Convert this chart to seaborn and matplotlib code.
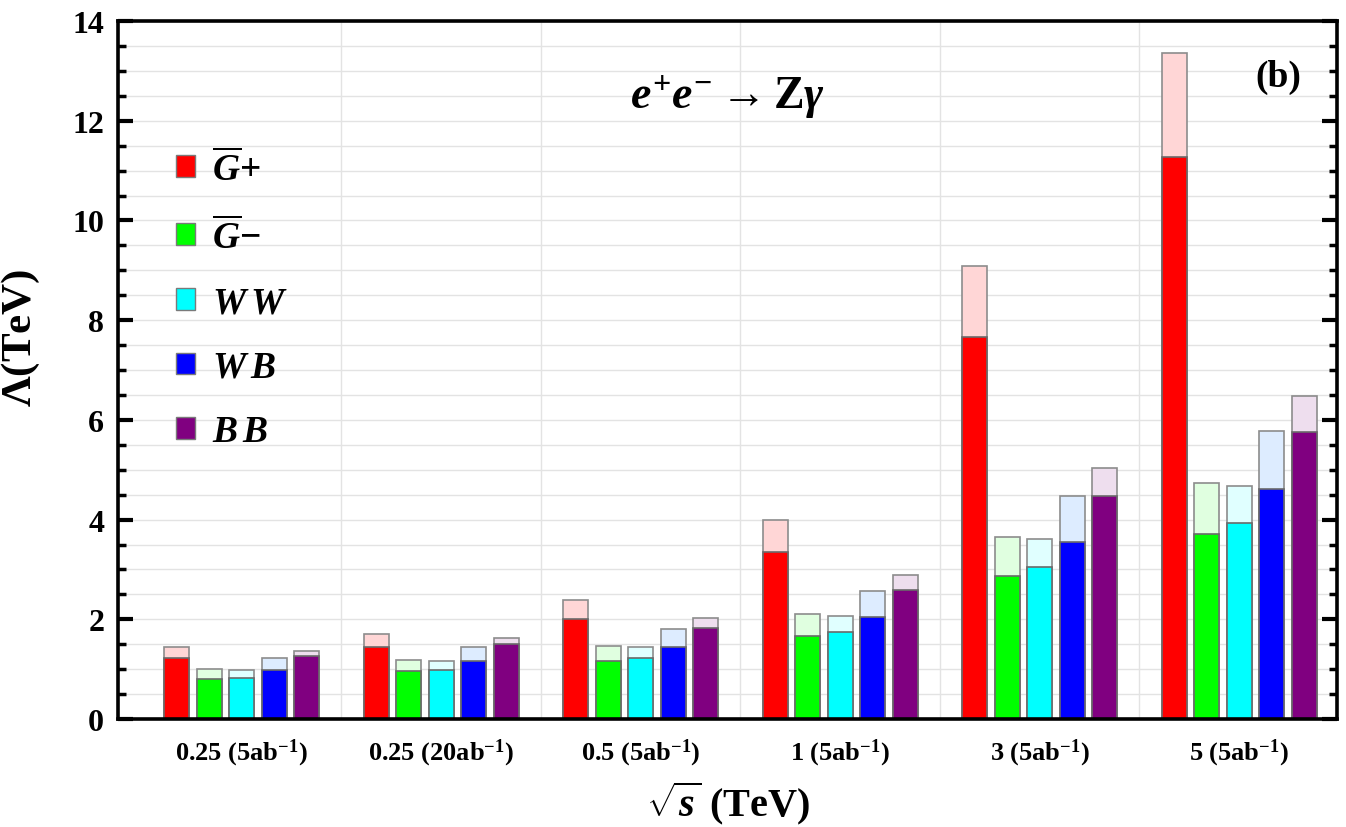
import numpy as np
import pandas as pd
import matplotlib
matplotlib.use("Agg")
import matplotlib.pyplot as plt
from matplotlib.patches import Patch
from matplotlib.ticker import MultipleLocator
import seaborn as sns

# ---- data ----
energies = ["0.25 (5ab$^{-1}$)", "0.25 (20ab$^{-1}$)", "0.5 (5ab$^{-1}$)",
            "1 (5ab$^{-1}$)", "3 (5ab$^{-1}$)", "5 (5ab$^{-1}$)"]
operators = ["Gp", "Gm", "WW", "WB", "BB"]
legend_labels = [r"$\overline{G}$+", r"$\overline{G}$$-$", r"$W\,W$", r"$W\,B$", r"$B\,B$"]

# lower (solid) bound per operator, per energy
lower_Gp = [1.22, 1.44, 2.00, 3.35, 7.67, 11.27]
lower_Gm = [0.80, 0.96, 1.16, 1.66, 2.87, 3.71]
lower_WW = [0.83, 0.98, 1.22, 1.75, 3.04, 3.94]
lower_WB = [0.98, 1.16, 1.44, 2.05, 3.56, 4.61]
lower_BB = [1.26, 1.50, 1.83, 2.58, 4.47, 5.76]
# upper (light) bound
upper_Gp = [1.44, 1.71, 2.38, 3.99, 9.09, 13.36]
upper_Gm = [1.00, 1.18, 1.47, 2.11, 3.66, 4.73]
upper_WW = [0.98, 1.16, 1.45, 2.07, 3.61, 4.67]
upper_WB = [1.22, 1.44, 1.80, 2.57, 4.47, 5.77]
upper_BB = [1.36, 1.62, 2.02, 2.89, 5.03, 6.48]

lowers = [lower_Gp, lower_Gm, lower_WW, lower_WB, lower_BB]
uppers = [upper_Gp, upper_Gm, upper_WW, upper_WB, upper_BB]

dark_colors = ["#ff0000", "#00ff00", "#00ffff", "#0000ff", "#800080"]
light_colors = ["#ffd6d6", "#e0ffe0", "#e0ffff", "#ddecff", "#eedeee"]

rows = []
for op, lo, up in zip(operators, lowers, uppers):
    for e, l, u in zip(energies, lo, up):
        rows.append({"energy": e, "op": op, "lower": l, "upper": u})
df = pd.DataFrame(rows)

# ---- style ----
sns.set_style("white")
plt.rcParams["font.family"] = ["Liberation Serif", "DejaVu Serif"]
plt.rcParams["font.weight"] = "bold"
plt.rcParams["mathtext.fontset"] = "custom"
plt.rcParams["mathtext.rm"] = "Liberation Serif:bold"
plt.rcParams["mathtext.it"] = "Liberation Serif:italic:bold"
plt.rcParams["mathtext.bf"] = "Liberation Serif:bold"
for k in ["text.color", "axes.labelcolor", "xtick.color", "ytick.color"]:
    plt.rcParams[k] = "black"

fig = plt.figure(figsize=(13.46, 8.28), dpi=100)
ax = fig.add_axes([0.0877, 0.1304, 0.9056, 0.843])

ax.set_axisbelow(True)
ax.yaxis.set_major_locator(MultipleLocator(2))
ax.yaxis.set_minor_locator(MultipleLocator(0.5))
ax.grid(True, which="both", axis="y", color="#e3e3e3", linewidth=1.0)
for xv in np.arange(0.5, 5.0, 1.0):
    ax.axvline(xv, color="#e3e3e3", linewidth=1.0, zorder=0)

sns.barplot(data=df, x="energy", y="upper", hue="op", hue_order=operators,
            order=energies, palette=light_colors, width=0.815, gap=0.23,
            edgecolor="#8c8c8c", linewidth=1.2, legend=False, ax=ax,
            errorbar=None, saturation=1)
sns.barplot(data=df, x="energy", y="lower", hue="op", hue_order=operators,
            order=energies, palette=dark_colors, width=0.815, gap=0.23,
            edgecolor="#6a6a6a", linewidth=1.2, legend=False, ax=ax,
            errorbar=None, saturation=1)

ax.set_xlim(-0.62, 5.49)
ax.set_ylim(0, 14)

for sp in ax.spines.values():
    sp.set_visible(True)
    sp.set_color("black")
    sp.set_linewidth(2.6)

ax.tick_params(axis="y", which="major", direction="in", length=11, width=3,
               left=True, right=True, labelsize=23, pad=10)
ax.tick_params(axis="y", which="minor", direction="in", length=6, width=2.5,
               left=True, right=True)
ax.tick_params(axis="x", which="both", bottom=False, top=False,
               labelsize=19, pad=9)
for lab in ax.get_xticklabels() + ax.get_yticklabels():
    lab.set_fontweight("bold")

ax.set_xlabel(r"$\sqrt{s}$ (TeV)", fontsize=29, fontweight="bold", labelpad=8)
ax.set_ylabel(r"$\Lambda$(TeV)", fontsize=31, fontweight="bold")
ax.yaxis.set_label_coords(-0.062, 0.547)

ax.text(0.5, 0.893, r"$e^{+}e^{-}\rightarrow\mathrm{Z}\gamma$",
        transform=ax.transAxes, ha="center", va="center", fontsize=33)
ax.text(0.952, 0.921, "(b)", transform=ax.transAxes, ha="center",
        va="center", fontsize=27, fontweight="bold")

handles = [Patch(facecolor=c, edgecolor="#7a7a7a", linewidth=1.0)
           for c in dark_colors]
ax.legend(handles, legend_labels, loc="upper left",
          bbox_to_anchor=(0.035, 0.838), frameon=False, fontsize=27,
          handlelength=0.52, handleheight=0.52, handletextpad=0.45,
          labelspacing=0.79, borderaxespad=0)

fig.savefig("out.png", dpi=100)
